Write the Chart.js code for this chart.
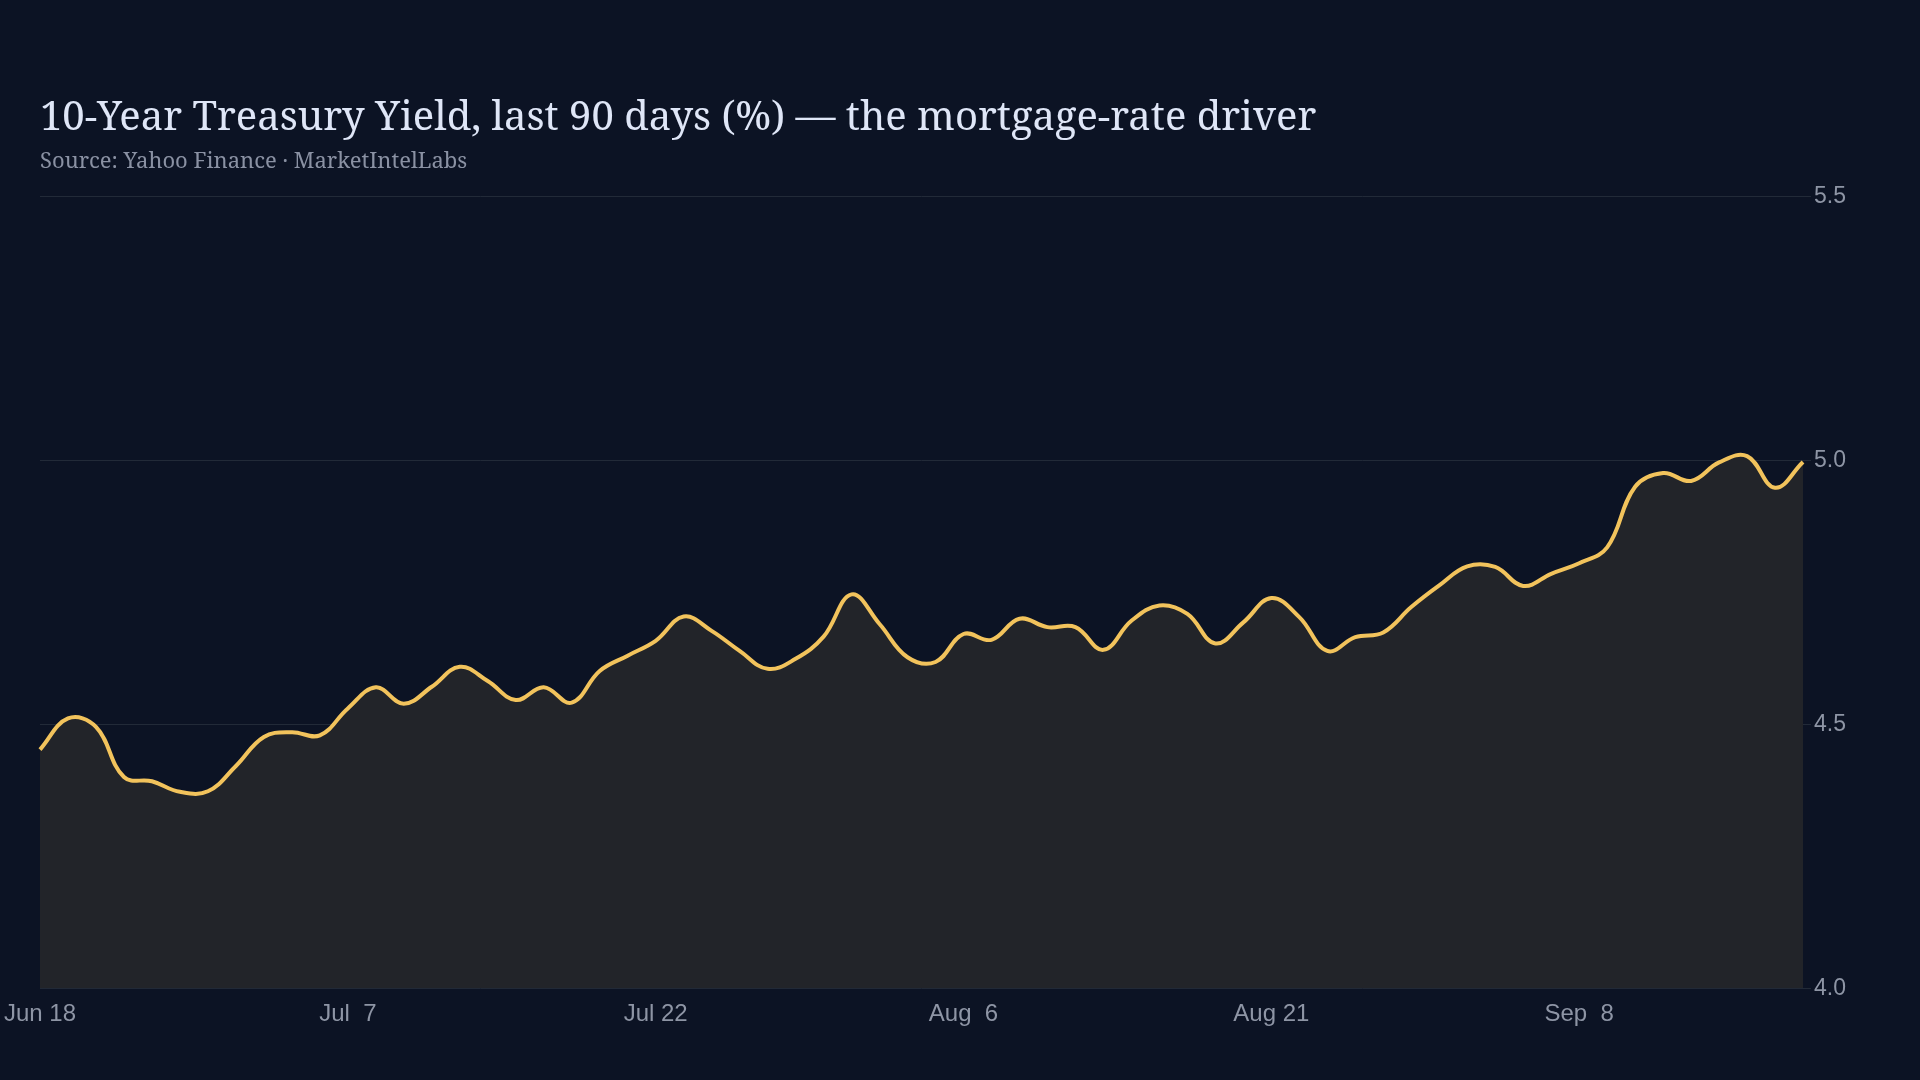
<!DOCTYPE html>
<html>
<head>
<meta charset="utf-8">
<title>10-Year Treasury Yield</title>
<script src="https://cdn.jsdelivr.net/npm/chart.js@4.4.1/dist/chart.umd.min.js"></script>
<style>
  html, body { margin: 0; padding: 0; background: #0c1324; }
  #wrap { width: 1920px; height: 1080px; }
</style>
</head>
<body>
<div id="wrap"><canvas id="canvas" width="1920" height="1080"></canvas></div>
<script>
// trading days, 18 Jun - 18 Sep (market holidays skipped)
const dates = [
    "Jun 18", "Jun 20", "Jun 23", "Jun 24", "Jun 25", "Jun 26", "Jun 27", "Jun 30",
    "Jul  1", "Jul  2", "Jul  3", "Jul  7", "Jul  8", "Jul  9", "Jul 10", "Jul 11",
    "Jul 14", "Jul 15", "Jul 16", "Jul 17", "Jul 18", "Jul 21", "Jul 22", "Jul 23",
    "Jul 24", "Jul 25", "Jul 28", "Jul 29", "Jul 30", "Jul 31", "Aug  1", "Aug  4",
    "Aug  5", "Aug  6", "Aug  7", "Aug  8", "Aug 11", "Aug 12", "Aug 13", "Aug 14",
    "Aug 15", "Aug 18", "Aug 19", "Aug 20", "Aug 21", "Aug 22", "Aug 25", "Aug 26",
    "Aug 27", "Aug 28", "Aug 29", "Sep  2", "Sep  3", "Sep  4", "Sep  5", "Sep  8",
    "Sep  9", "Sep 10", "Sep 11", "Sep 12", "Sep 15", "Sep 16", "Sep 17", "Sep 18"
];

// 10Y yield close, %
const yields = [
    4.452, 4.511, 4.495, 4.400, 4.392, 4.372, 4.373, 4.421,
    4.476, 4.485, 4.479, 4.530, 4.570, 4.539, 4.571, 4.609,
    4.582, 4.546, 4.570, 4.541, 4.601, 4.630, 4.658, 4.704,
    4.677, 4.639, 4.605, 4.624, 4.666, 4.746, 4.690, 4.627,
    4.618, 4.671, 4.660, 4.700, 4.684, 4.684, 4.641, 4.696,
    4.725, 4.709, 4.653, 4.693, 4.739, 4.703, 4.639, 4.665,
    4.674, 4.722, 4.763, 4.799, 4.798, 4.762, 4.785, 4.805,
    4.835, 4.950, 4.976, 4.961, 4.996, 5.008, 4.948, 4.997
];

// y axis range and steps
const yMin = 4.0;
const yMax = 5.5;
const yStep = 0.5;
// show every n-th date on the x axis
const labelEvery = 11;

const TICK_COLOR = '#8e95a5';
const GRID_COLOR = '#222a38';

let ctx = document.getElementById('canvas').getContext('2d');
let chart = new Chart(ctx, {
    type: 'line',
    data: {
        labels: dates,
        datasets: [{
            label: '10Y yield',
            data: yields,
            borderColor: '#f2c35c',
            backgroundColor: '#222429',
            borderWidth: 4,
            pointRadius: 0,
            tension: 0.4,
            fill: 'start'
        }]
    },
    options: {
        responsive: false,
        devicePixelRatio: 1,
        animation: false,
        layout: {
            padding: { top: 95, left: 40, right: 71, bottom: 47 }
        },
        plugins: {
            legend: { display: false },
            tooltip: { enabled: false },
            title: {
                display: true,
                align: 'start',
                text: '10-Year Treasury Yield, last 90 days (%) \u2014 the mortgage-rate driver',
                color: '#dfe6f7',
                font: { family: '"Noto Serif", "DejaVu Serif", serif', size: 40, weight: 'normal' },
                padding: { top: 0, bottom: 5.5 }
            },
            subtitle: {
                display: true,
                align: 'start',
                text: 'Source: Yahoo Finance \u00b7 MarketIntelLabs',
                color: '#8a91a3',
                font: { family: '"Noto Serif", "DejaVu Serif", serif', size: 22, weight: 'normal' },
                padding: { top: 0, bottom: 21.5 }
            }
        },
        scales: {
            x: {
                grid: { display: false },
                border: { display: false },
                // let the first label hang over the left edge
                afterFit: function (scale) {
                    scale.paddingLeft = 0;
                    scale.paddingRight = 0;
                },
                ticks: {
                    color: TICK_COLOR,
                    font: { family: '"Liberation Sans", Arial, sans-serif', size: 24 },
                    autoSkip: false,
                    maxRotation: 0,
                    padding: 4,
                    callback: function (value, index) {
                        return index % labelEvery === 0 ? dates[index] : '';
                    }
                }
            },
            y: {
                position: 'right',
                min: yMin,
                max: yMax,
                grid: { color: GRID_COLOR, lineWidth: 1, tickLength: 8 },
                border: { display: false },
                ticks: {
                    stepSize: yStep,
                    color: TICK_COLOR,
                    font: { family: '"Liberation Sans", Arial, sans-serif', size: 23 },
                    padding: 3,
                    callback: function (value) {
                        return value.toFixed(1);
                    }
                }
            }
        }
    }
});
</script>
</body>
</html>
